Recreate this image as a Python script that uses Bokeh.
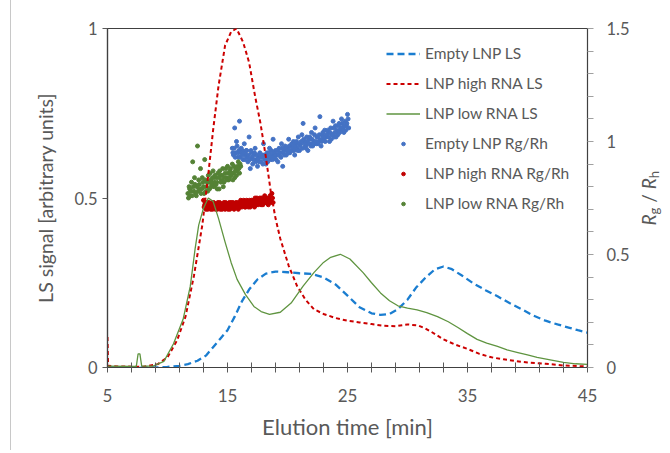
from bokeh.plotting import figure
from bokeh.models import Range1d, LinearAxis, FixedTicker, Legend, LegendItem, Div
from bokeh.layouts import row
from bokeh.embed import file_html
from bokeh.resources import INLINE

# ---------------- data ----------------
x_major = [5, 15, 25, 35, 45]
x_minor = [7, 9, 11, 13, 17, 19, 21, 23, 27, 29, 31, 33, 37, 39, 41, 43]
left_ticks = [0, 0.5, 1]
right_ticks = [0, 0.5, 1, 1.5]
right_minor = [0.1, 0.2, 0.3, 0.4, 0.6, 0.7, 0.8, 0.9, 1.1, 1.2, 1.3, 1.4]

# Empty LNP LS (blue dashed)
empty_t = [5, 9, 10, 11, 11.7, 12.5, 13.2, 13.8, 14.4, 15, 15.6, 16.2, 16.8, 17.5, 18.2, 19, 20, 21, 22,
           23, 24, 25, 26, 27, 27.75, 28.5, 29.2, 30, 30.7, 31.5, 32.3, 33, 33.7, 34.5, 35.5, 36.5,
           37.5, 38.5, 39.5, 40.5, 41.5, 42.5, 43.5, 44.2, 45]
empty_ls = [0, 0, 0.002, 0.005, 0.01, 0.02, 0.035, 0.06, 0.085, 0.11, 0.15, 0.195, 0.23, 0.26, 0.277,
            0.283, 0.281, 0.278, 0.276, 0.266, 0.245, 0.212, 0.178, 0.16, 0.155, 0.158, 0.172, 0.2,
            0.235, 0.265, 0.29, 0.298, 0.29, 0.272, 0.248, 0.228, 0.21, 0.19, 0.172, 0.153, 0.138,
            0.127, 0.117, 0.11, 0.103]

# LNP high RNA LS (red dashed)
high_t = [5, 5.05, 6, 8, 9.2, 10, 10.8, 11.5, 12.2, 12.9, 13.4, 13.8, 14.25, 14.8, 15.3, 15.75, 16.3,
          16.8, 17.3, 17.75, 18.2, 18.6, 19.0, 19.4, 20.1, 20.8, 21.5, 22.2, 23, 24, 25, 26, 27, 28,
          29, 30, 30.9, 31.5, 32, 33, 34, 35, 36, 37, 38, 39, 40, 41.5, 43, 45]
high_ls = [0.09, 0.005, 0.003, 0.002, 0.01, 0.03, 0.08, 0.15, 0.27, 0.42, 0.57, 0.7, 0.83, 0.95, 0.99,
           1.0, 0.96, 0.9, 0.8, 0.72, 0.62, 0.52, 0.44, 0.38, 0.3, 0.24, 0.2, 0.172, 0.158, 0.146,
           0.138, 0.133, 0.128, 0.123, 0.122, 0.127, 0.124, 0.115, 0.105, 0.083, 0.067, 0.055, 0.04,
           0.03, 0.024, 0.019, 0.015, 0.011, 0.006, 0.003]

# LNP low RNA LS (green solid)
low_t = [5, 7.4, 7.55, 7.7, 7.85, 8.8, 9.7, 10.5, 11.3, 11.9, 12.3, 12.6, 13.0, 13.4, 13.8, 14.25,
         14.8, 15.3, 15.8, 16.5, 17.2, 17.8, 18.5, 19.4, 20.3, 21.3, 22.2, 23, 23.6, 24.4, 25.2,
         26.3, 27, 27.75, 28.5, 29.2, 30, 30.8, 31.6, 32.5, 33.4, 34.2, 35, 35.8, 36.6, 37.5, 38.3,
         39.2, 40, 40.8, 42, 43, 44, 45]
low_ls = [0.004, 0.003, 0.04, 0.04, 0.004, 0.004, 0.018, 0.07, 0.142, 0.24, 0.35, 0.42, 0.47, 0.5,
          0.49, 0.44, 0.37, 0.31, 0.26, 0.215, 0.18, 0.165, 0.157, 0.163, 0.19, 0.24, 0.28, 0.31,
          0.325, 0.334, 0.32, 0.28, 0.25, 0.22, 0.197, 0.182, 0.175, 0.17, 0.162, 0.15, 0.135, 0.118,
          0.1, 0.083, 0.072, 0.062, 0.052, 0.044, 0.037, 0.03, 0.022, 0.015, 0.011, 0.009]

# Rg/Rh scatter (right axis) -- Empty LNP
empty_rg_t = [15.4, 15.5, 15.6, 15.7, 15.8, 15.9, 16.0, 16.1, 16.2, 16.3,
              16.4, 16.5, 16.6, 16.7, 16.8, 16.9, 17.0, 17.1, 17.2, 17.3,
              17.4, 17.5, 17.6, 17.7, 17.8, 17.9, 18.0, 18.1, 18.2, 18.3,
              18.4, 18.5, 18.6, 18.7, 18.8, 18.9, 19.0, 19.1, 19.2, 19.3,
              19.4, 19.5, 19.6, 19.7, 19.8, 19.9, 20.0, 20.1, 20.2, 20.3,
              20.4, 20.5, 20.6, 20.7, 20.8, 20.9, 21.0, 21.1, 21.2, 21.3,
              21.4, 21.5, 21.6, 21.7, 21.8, 21.9, 22.0, 22.1, 22.2, 22.3,
              22.4, 22.5, 22.6, 22.7, 22.8, 22.9, 23.0, 23.1, 23.2, 23.3,
              23.4, 23.5, 23.6, 23.7, 23.8, 23.9, 24.0, 24.1, 24.2, 24.3,
              24.4, 24.5, 24.6, 24.7, 24.8, 24.9, 25.0, 25.1]
empty_rg = [0.97, 0.94, 1.06, 0.95, 0.98, 0.93, 1.09, 0.95, 0.96, 0.92,
            0.99, 0.94, 0.96, 0.91, 1.02, 0.88, 0.95, 0.90, 0.94, 0.97,
            0.92, 0.89, 0.93, 0.95, 0.91, 0.94, 0.99, 0.92, 0.90, 0.95,
            0.93, 0.97, 0.92, 0.94, 1.01, 0.93, 0.96, 0.94, 0.91, 0.97,
            0.95, 0.99, 0.89, 0.96, 0.98, 0.94, 0.97, 1.01, 0.95, 0.98,
            0.96, 1.00, 0.94, 0.99, 0.97, 1.02, 0.96, 0.99, 1.03, 1.08,
            1.00, 0.98, 1.02, 0.96, 1.01, 0.99, 1.04, 0.98, 1.00, 1.06,
            0.99, 1.02, 1.00, 1.11, 0.98, 1.03, 1.01, 1.05, 1.02, 1.02,
            1.04, 1.00, 1.06, 1.03, 1.09, 1.02, 1.07, 1.04, 1.03, 1.08,
            1.05, 1.10, 1.06, 1.04, 1.09, 1.07, 1.12, 1.06]
empty_rg_t2 = [15.45, 15.55, 15.65, 15.75, 15.85, 15.95, 16.05, 16.15, 16.25, 16.35,
               16.45, 16.55, 16.65, 16.75, 16.85, 16.95, 17.05, 17.15, 17.25, 17.35,
               17.45, 17.55, 17.65, 17.75, 17.85, 17.95, 18.05, 18.15, 18.25, 18.35,
               18.45, 18.55, 18.65, 18.75, 18.85, 18.95, 19.05, 19.15, 19.25, 19.35,
               19.45, 19.55, 19.65, 19.75, 19.85, 19.95, 20.05, 20.15, 20.25, 20.35,
               20.45, 20.55, 20.65, 20.75, 20.85, 20.95, 21.05, 21.15, 21.25, 21.35,
               21.45, 21.55, 21.65, 21.75, 21.85, 21.95, 22.05, 22.15, 22.25, 22.35,
               22.45, 22.55, 22.65, 22.75, 22.85, 22.95, 23.05, 23.15, 23.25, 23.35,
               23.45, 23.55, 23.65, 23.75, 23.85, 23.95, 24.05, 24.15, 24.25, 24.35,
               24.45, 24.55, 24.65, 24.75, 24.85, 24.95, 25.05]
empty_rg2 = [0.95, 0.97, 0.93, 1.00, 0.95, 0.96, 0.93, 0.97, 0.94, 0.95,
             0.92, 0.96, 0.93, 0.94, 0.92, 0.96, 0.93, 0.92, 0.95, 0.91,
             0.94, 0.92, 0.91, 0.94, 0.93, 0.90, 0.94, 0.92, 0.94, 0.91,
             0.95, 0.93, 0.96, 0.92, 0.95, 0.94, 0.92, 0.96, 0.94, 0.95,
             0.93, 0.97, 0.95, 0.94, 0.97, 0.96, 0.95, 0.98, 0.96, 0.99,
             0.97, 0.96, 0.98, 1.00, 0.96, 0.99, 0.98, 1.00, 0.97, 1.01,
             0.99, 0.97, 1.00, 0.99, 1.02, 0.98, 1.01, 0.99, 1.03, 1.00,
             1.02, 0.99, 1.03, 1.01, 1.00, 1.04, 1.02, 1.00, 1.03, 1.05,
             1.02, 1.04, 1.01, 1.03, 1.06, 1.04, 1.02, 1.05, 1.07, 1.04,
             1.06, 1.08, 1.05, 1.07, 1.05, 1.08, 1.10]

# LNP high RNA
high_rg_t = [13.0, 13.1, 13.2, 13.3, 13.4, 13.5, 13.6, 13.7, 13.8, 13.9,
             14.0, 14.1, 14.2, 14.3, 14.4, 14.5, 14.6, 14.7, 14.8, 14.9,
             15.0, 15.1, 15.2, 15.3, 15.4, 15.5, 15.6, 15.7, 15.8, 15.9,
             16.0, 16.1, 16.2, 16.3, 16.4, 16.5, 16.6, 16.7, 16.8, 16.9,
             17.0, 17.1, 17.2, 17.3, 17.4, 17.5, 17.6, 17.7, 17.8, 17.9,
             18.0, 18.1, 18.2, 18.3, 18.4, 18.5, 18.6, 18.7, 18.8]
high_rg = [0.74, 0.72, 0.70, 0.73, 0.71, 0.72, 0.70, 0.73, 0.71, 0.72,
           0.70, 0.71, 0.73, 0.71, 0.70, 0.72, 0.71, 0.73, 0.70, 0.72,
           0.71, 0.72, 0.70, 0.73, 0.71, 0.72, 0.71, 0.73, 0.72, 0.70,
           0.72, 0.74, 0.71, 0.72, 0.73, 0.71, 0.74, 0.72, 0.73, 0.71,
           0.74, 0.72, 0.73, 0.75, 0.72, 0.74, 0.73, 0.75, 0.72, 0.74,
           0.73, 0.76, 0.73, 0.74, 0.72, 0.75, 0.74, 0.77, 0.73]
high_rg_t2 = [13.05, 13.15, 13.25, 13.35, 13.45, 13.55, 13.65, 13.75, 13.85, 13.95,
              14.05, 14.15, 14.25, 14.35, 14.45, 14.55, 14.65, 14.75, 14.85, 14.95,
              15.05, 15.15, 15.25, 15.35, 15.45, 15.55, 15.65, 15.75, 15.85, 15.95,
              16.05, 16.15, 16.25, 16.35, 16.45, 16.55, 16.65, 16.75, 16.85, 16.95,
              17.05, 17.15, 17.25, 17.35, 17.45, 17.55, 17.65, 17.75, 17.85, 17.95,
              18.05, 18.15, 18.25, 18.35, 18.45, 18.55, 18.65, 18.75]
high_rg2 = [0.71, 0.73, 0.72, 0.70, 0.73, 0.71, 0.72, 0.70, 0.73, 0.71,
            0.72, 0.70, 0.72, 0.73, 0.71, 0.70, 0.72, 0.71, 0.73, 0.71,
            0.70, 0.73, 0.72, 0.71, 0.73, 0.70, 0.72, 0.71, 0.73, 0.72,
            0.71, 0.73, 0.72, 0.74, 0.71, 0.73, 0.72, 0.71, 0.74, 0.73,
            0.72, 0.74, 0.71, 0.73, 0.75, 0.72, 0.74, 0.73, 0.75, 0.72,
            0.74, 0.73, 0.75, 0.73, 0.74, 0.76, 0.73, 0.75]

# LNP low RNA
low_rg_t = [11.7, 11.8, 11.9, 12.0, 12.1, 12.2, 12.3, 12.4, 12.5, 12.6,
            12.7, 12.8, 12.9, 13.0, 13.1, 13.2, 13.3, 13.4, 13.5, 13.6,
            13.7, 13.8, 13.9, 14.0, 14.1, 14.2, 14.3, 14.4, 14.5, 14.6,
            14.7, 14.8, 14.9, 15.0, 15.1, 15.2, 15.3, 15.4, 15.5, 15.6,
            15.7, 15.8, 15.9, 16.0, 16.1]
low_rg = [0.77, 0.80, 0.76, 0.82, 0.91, 0.78, 0.81, 0.76, 0.98, 0.83,
          0.79, 0.77, 0.84, 0.80, 0.92, 0.78, 0.82, 0.85, 0.79, 0.83,
          0.81, 0.87, 0.80, 0.84, 0.82, 0.86, 0.79, 0.85, 0.83, 0.88,
          0.82, 0.86, 0.84, 0.89, 0.83, 0.87, 0.85, 0.90, 0.86, 0.84,
          0.88, 0.87, 0.91, 0.86, 0.89]
low_rg_t2 = [11.75, 11.85, 11.95, 12.05, 12.15, 12.25, 12.35, 12.45, 12.55, 12.65,
             12.75, 12.85, 12.95, 13.05, 13.15, 13.25, 13.35, 13.45, 13.55, 13.65,
             13.75, 13.85, 13.95, 14.05, 14.15, 14.25, 14.35, 14.45, 14.55, 14.65,
             14.75, 14.85, 14.95, 15.05, 15.15, 15.25, 15.35, 15.45, 15.55, 15.65,
             15.75, 15.85, 15.95, 16.05]
low_rg2 = [0.75, 0.79, 0.78, 0.76, 0.80, 0.84, 0.77, 0.80, 0.78, 0.81,
           0.88, 0.79, 0.82, 0.77, 0.83, 0.80, 0.78, 0.82, 0.86, 0.80,
           0.84, 0.82, 0.85, 0.81, 0.79, 0.84, 0.87, 0.82, 0.85, 0.80,
           0.84, 0.88, 0.83, 0.86, 0.84, 0.88, 0.86, 0.83, 0.89, 0.87,
           0.85, 0.89, 0.88, 0.90]

# ---------------- style ----------------
FONT = "Lato"
TXT = "#595959"
BLUE_LINE = "#1a7dd0"
RED_LINE = "#cc0000"
GREEN_LINE = "#5f9440"
BLUE_PT = "#4472c4"
RED_PT = "#c00000"
GREEN_PT = "#548235"

p = figure(frame_width=480, frame_height=339,
           min_border_left=96, min_border_right=46, min_border_top=28, min_border_bottom=77,
           x_range=Range1d(5, 45), y_range=Range1d(0, 1),
           output_backend="svg", toolbar_location=None)
p.margin = 0
p.extra_y_ranges = {"rr": Range1d(0, 1.5)}
p.grid.visible = False
p.outline_line_color = "#404040"
p.outline_line_width = 1.2
p.background_fill_color = "white"
p.border_fill_color = "white"

# x axis
xa = p.xaxis[0]
xa.ticker = FixedTicker(ticks=x_major, minor_ticks=x_minor)
xa.axis_label = "Elution time [min]"
xa.axis_label_text_font = FONT
xa.axis_label_text_font_style = "normal"
xa.axis_label_text_font_size = "22px"
xa.axis_label_text_color = TXT
xa.axis_label_standoff = 8
xa.major_label_text_font = FONT
xa.major_label_text_font_size = "17px"
xa.major_label_text_color = TXT
xa.major_label_standoff = 16
xa.axis_line_color = "#404040"
xa.major_tick_in = 5
xa.major_tick_out = 5
xa.minor_tick_in = 5
xa.minor_tick_out = 5
xa.major_tick_line_color = "#595959"
xa.minor_tick_line_color = "#595959"

# left axis
ya = p.yaxis[0]
ya.ticker = FixedTicker(ticks=left_ticks)
ya.major_label_overrides = {t: ("%g" % t) for t in left_ticks}
ya.axis_label = "LS signal [arbitrary units]"
ya.axis_label_text_font = FONT
ya.axis_label_text_font_style = "normal"
ya.axis_label_text_font_size = "19.5px"
ya.axis_label_text_color = TXT
ya.axis_label_standoff = 14
ya.major_label_text_font = FONT
ya.major_label_text_font_size = "16.5px"
ya.major_label_text_color = TXT
ya.major_label_standoff = 5
ya.axis_line_color = "#404040"
ya.axis_line_width = 1.2
ya.major_tick_in = 0
ya.major_tick_out = 5
ya.minor_tick_line_color = None
ya.major_tick_line_color = "#595959"

# right axis
ra = LinearAxis(y_range_name="rr", ticker=FixedTicker(ticks=right_ticks, minor_ticks=right_minor))
ra.major_label_overrides = {t: ("%g" % t) for t in right_ticks}
ra.major_label_text_font = FONT
ra.major_label_text_font_size = "16.5px"
ra.major_label_text_color = TXT
ra.major_label_standoff = 13
ra.axis_line_color = "#404040"
ra.major_tick_in = 0
ra.major_tick_out = 6
ra.minor_tick_in = 0
ra.minor_tick_out = 6
ra.major_tick_line_color = "#a0a0a0"
ra.minor_tick_line_color = "#a0a0a0"
p.add_layout(ra, "right")

# scatter (drawn first, lines on top)
SZ = 4
s_blue = p.scatter(empty_rg_t + empty_rg_t2, empty_rg + empty_rg2, y_range_name="rr",
                   size=SZ, color=BLUE_PT)
s_red = p.scatter(high_rg_t + high_rg_t2, high_rg + high_rg2, y_range_name="rr",
                  size=SZ, color=RED_PT)
s_green = p.scatter(low_rg_t + low_rg_t2, low_rg + low_rg2, y_range_name="rr",
                    size=SZ, color=GREEN_PT)

l_blue = p.line(empty_t, empty_ls, line_color=BLUE_LINE, line_width=2.3, line_dash="7 4")
l_red = p.line(high_t, high_ls, line_color=RED_LINE, line_width=2.0, line_dash="4 3")
l_green = p.line(low_t, low_ls, line_color=GREEN_LINE, line_width=1.3)

legend = Legend(items=[
    LegendItem(label="Empty LNP LS", renderers=[l_blue]),
    LegendItem(label="LNP high RNA LS", renderers=[l_red]),
    LegendItem(label="LNP low RNA LS", renderers=[l_green]),
    LegendItem(label="Empty LNP Rg/Rh", renderers=[s_blue]),
    LegendItem(label="LNP high RNA Rg/Rh", renderers=[s_red]),
    LegendItem(label="LNP low RNA Rg/Rh", renderers=[s_green]),
], location=(274, 149))
legend.border_line_alpha = 0
legend.background_fill_alpha = 0
legend.padding = 5
legend.spacing = 10
legend.glyph_width = 34
legend.glyph_height = 9
legend.label_height = 20
legend.label_standoff = 5
legend.label_text_font = FONT
legend.label_text_font_size = "15.5px"
legend.label_text_color = TXT
legend.margin = 0
p.add_layout(legend)

# thin grey frame line at the far left of the picture
edge = Div(text="", width=1, height=450, margin=(0, 0, 0, 10),
           styles={"background-color": "#c8c8c8"})

# right axis title  R_g / R_h
title_html = (
    '<div style="margin-top:29px;height:339px;width:34px;display:flex;'
    'align-items:center;justify-content:center;">'
    '<span style="writing-mode:vertical-rl;transform:rotate(180deg);font-family:Lato;'
    'font-size:19px;color:#595959;white-space:nowrap;line-height:1;">'
    '<i>R</i><sub style="font-size:13px">g</sub> / <i>R</i><sub style="font-size:13px">h</sub>'
    '</span></div>'
)
rtitle = Div(text=title_html, width=34, height=437, margin=0)

layout = row(edge, p, rtitle)
layout.margin = 0
layout.spacing = 0

open("out.html", "w").write(file_html(layout, INLINE))
